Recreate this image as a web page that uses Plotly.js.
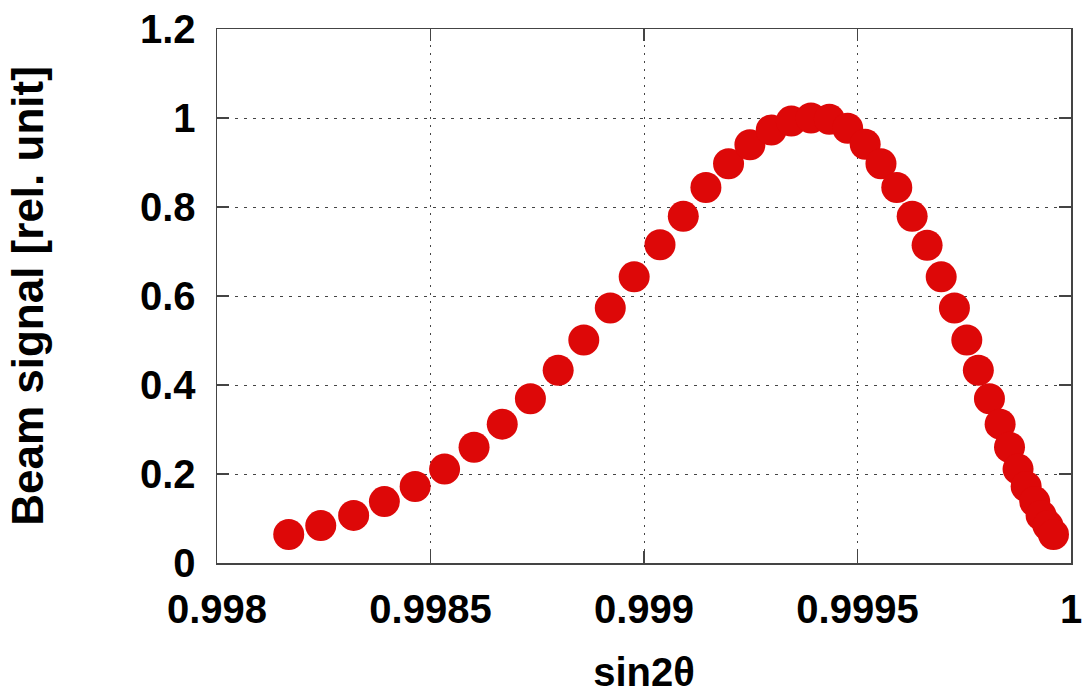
<!DOCTYPE html>
<html>
<head>
<meta charset="utf-8">
<script src="https://cdn.plot.ly/plotly-3.0.1.min.js"></script>
<style>html,body{margin:0;padding:0;background:#fff;}#chart{width:1085px;height:696px;}</style>
</head>
<body>
<div id="chart"></div>
<script>
// sin2θ values
var sin2theta = [
  0.998168, 0.998243, 0.998320, 0.998392, 0.998464, 0.998533, 0.998602, 0.998668,
  0.998734, 0.998799, 0.998859, 0.998921, 0.998977, 0.9990375, 0.999092, 0.999145,
  0.999198, 0.999248, 0.999298, 0.999345, 0.999391, 0.999434, 0.999477, 0.999518,
  0.999555, 0.999592, 0.999628, 0.999663, 0.999696, 0.999727, 0.999756, 0.999783,
  0.999809, 0.999834, 0.999856, 0.999876, 0.999895, 0.999915, 0.999930, 0.999946,
  0.999959
];
// Beam signal [rel. unit]
var beamSignal = [
  0.064, 0.084, 0.107, 0.138, 0.172, 0.211, 0.260, 0.312,
  0.369, 0.433, 0.501, 0.573, 0.643, 0.715, 0.779, 0.844,
  0.897, 0.940, 0.973, 0.993, 1.000, 0.997, 0.977, 0.941,
  0.897, 0.844, 0.779, 0.714, 0.643, 0.573, 0.501, 0.433,
  0.369, 0.312, 0.260, 0.211, 0.172, 0.138, 0.107, 0.084,
  0.064
];
var xTickVals = [0.998, 0.9985, 0.999, 0.9995, 1];
var xTickText = ["0.998", "0.9985", "0.999", "0.9995", "1"];
var yTickVals = [0, 0.2, 0.4, 0.6, 0.8, 1, 1.2];
var yTickText = ["0", "0.2", "0.4", "0.6", "0.8", "1", "1.2"];

var fontFam = "Liberation Sans, Arial, sans-serif";
var trace = {
  x: sin2theta, y: beamSignal, type: "scatter", mode: "markers",
  marker: {size: 31, color: "rgb(221,8,8)", line: {width: 0}},
  hoverinfo: "skip"
};
var axisCommon = {
  showline: true, linecolor: "#444", linewidth: 1.5, mirror: "ticks",
  ticks: "inside", ticklen: 12, tickwidth: 1.5, tickcolor: "#444",
  showgrid: true, gridcolor: "#444", gridwidth: 1,
  zeroline: false,
  tickfont: {family: fontFam, size: 40, color: "#000", weight: "bold"}
};
var layout = {
  width: 1085, height: 696,
  margin: {l: 217, r: 14, t: 29, b: 133},
  paper_bgcolor: "#fff", plot_bgcolor: "#fff",
  showlegend: false,
  xaxis: Object.assign({}, axisCommon, {
    range: [0.998, 1.0], tickmode: "array", tickvals: xTickVals, ticktext: xTickText,
    griddash: "2px,6px", ticklabelstandoff: 10,
    title: {text: "sin2θ", standoff: 28, font: {family: fontFam, size: 40, color: "#000", weight: "bold"}}
  }),
  yaxis: Object.assign({}, axisCommon, {
    range: [0, 1.2], tickmode: "array", tickvals: yTickVals, ticktext: yTickText,
    griddash: "3px,6px", ticklabelstandoff: 12,
    title: {text: "Beam signal [rel. unit]", standoff: 82, font: {family: fontFam, size: 44, color: "#000", weight: "bold"}}
  })
};
Plotly.newPlot("chart", [trace], layout, {staticPlot: true, displayModeBar: false});
</script>
</body>
</html>
